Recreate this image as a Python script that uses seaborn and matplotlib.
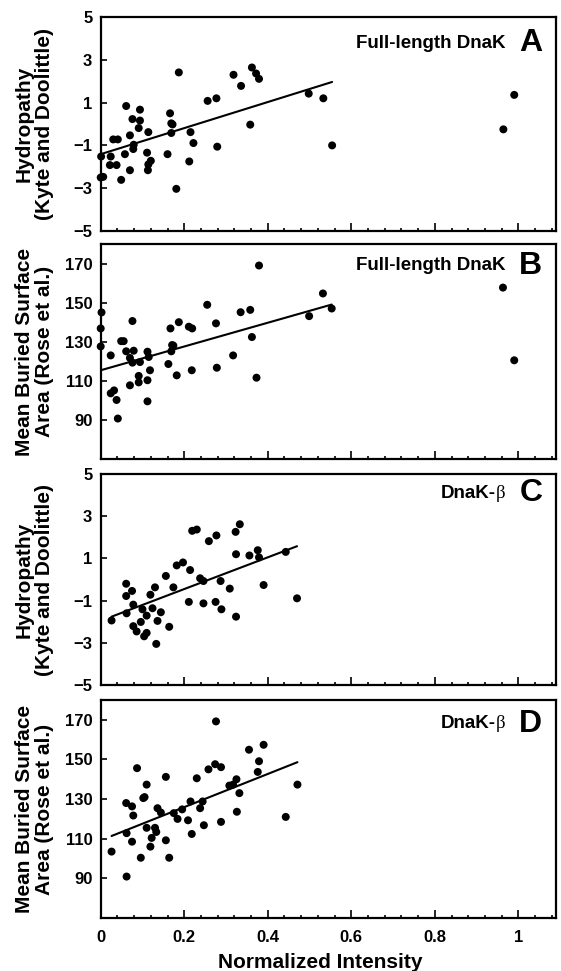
import numpy as np
import pandas as pd
import matplotlib
matplotlib.use("Agg")
import matplotlib.pyplot as plt
from matplotlib.ticker import MultipleLocator, FixedLocator, FuncFormatter
import seaborn as sns

# ---- Panel A: full-length DnaK, hydropathy ----
a_x = [0.001, 0.0, 0.006, 0.024, 0.022, 0.038, 0.030, 0.041, 0.049, 0.058, 0.061, 0.070,
       0.070, 0.076, 0.079, 0.078, 0.094, 0.094, 0.091, 0.114, 0.111, 0.114, 0.120, 0.113,
       0.160, 0.166, 0.169, 0.172, 0.169, 0.181, 0.187, 0.215, 0.222, 0.212, 0.256, 0.277,
       0.279, 0.318, 0.336, 0.362, 0.372, 0.379, 0.358, 0.498, 0.533, 0.554, 0.964, 0.990]
a_y = [-1.52, -2.50, -2.47, -1.52, -1.92, -1.92, -0.72, -0.72, -2.61, -1.41, 0.84, -0.53,
       -2.16, 0.23, -0.97, -1.17, 0.67, 0.16, -0.19, -0.38, -1.34, -1.89, -1.72, -2.16,
       -1.41, 0.50, 0.03, -0.02, -0.42, -3.03, 2.41, -0.38, -0.89, -1.75, 1.08, 1.20,
       -1.06, 2.30, 1.78, 2.64, 2.36, 2.11, -0.03, 1.42, 1.20, -1.00, -0.25, 1.36]
a_fit = (-1.41, 6.09)  # intercept, slope

# ---- Panel B: full-length DnaK, mean buried surface area ----
b_x = [0.002, 0.0, 0.0, 0.024, 0.024, 0.032, 0.038, 0.041, 0.049, 0.055, 0.061, 0.070,
       0.076, 0.079, 0.076, 0.070, 0.094, 0.091, 0.091, 0.112, 0.115, 0.118, 0.112, 0.112,
       0.162, 0.167, 0.171, 0.169, 0.174, 0.182, 0.187, 0.211, 0.219, 0.218, 0.255, 0.276,
       0.278, 0.317, 0.335, 0.358, 0.362, 0.373, 0.379, 0.499, 0.532, 0.553, 0.963, 0.990]
b_y = [145.0, 136.8, 127.6, 123.0, 103.6, 105.1, 100.2, 90.7, 130.3, 130.3, 125.1, 121.7,
       140.6, 125.4, 119.3, 107.7, 119.6, 112.5, 109.2, 124.9, 122.2, 115.4, 110.3, 99.5,
       118.6, 136.8, 128.3, 125.1, 128.0, 112.8, 140.0, 137.7, 136.8, 115.4, 148.9, 139.4,
       116.7, 123.0, 145.1, 146.3, 132.4, 111.6, 169.0, 143.1, 154.7, 147.0, 157.7, 120.5]
b_fit = (115.4, 60.8)

# ---- Panel C: DnaK-beta, hydropathy ----
c_x = [0.026, 0.061, 0.061, 0.062, 0.075, 0.078, 0.078, 0.086, 0.096, 0.100, 0.110, 0.104,
       0.110, 0.119, 0.124, 0.130, 0.133, 0.136, 0.144, 0.156, 0.164, 0.174, 0.182, 0.197,
       0.214, 0.211, 0.219, 0.230, 0.238, 0.246, 0.246, 0.259, 0.277, 0.275, 0.287, 0.289,
       0.309, 0.323, 0.333, 0.324, 0.324, 0.356, 0.376, 0.379, 0.390, 0.443, 0.470]
c_y = [-1.94, -0.20, -0.78, -1.60, -0.54, -1.19, -2.21, -2.46, -2.01, -1.41, -2.53, -2.69,
       -1.71, -0.72, -1.36, -0.37, -3.05, -1.96, -1.55, 0.17, -2.24, -0.37, 0.67, 0.81,
       0.45, -1.06, 2.31, 2.37, 0.06, -0.07, -1.13, 1.82, 2.09, -1.06, -0.07, -1.41,
       -0.43, 2.26, 2.62, 1.20, -1.76, 1.14, 1.39, 1.05, -0.26, 1.31, -0.89]
c_fit = (-1.955, 7.52)

# ---- Panel D: DnaK-beta, mean buried surface area ----
d_x = [0.026, 0.061, 0.062, 0.062, 0.075, 0.078, 0.075, 0.087, 0.096, 0.102, 0.105, 0.110,
       0.110, 0.119, 0.122, 0.130, 0.133, 0.136, 0.144, 0.156, 0.156, 0.164, 0.175, 0.184,
       0.195, 0.209, 0.215, 0.218, 0.230, 0.238, 0.244, 0.247, 0.258, 0.274, 0.276, 0.288,
       0.288, 0.308, 0.317, 0.325, 0.326, 0.332, 0.355, 0.376, 0.379, 0.390, 0.443, 0.471]
d_y = [103.5, 128.0, 112.8, 90.9, 126.3, 121.7, 108.5, 145.6, 100.4, 130.5, 131.0, 137.3,
       115.5, 106.0, 110.4, 115.5, 113.4, 125.4, 123.2, 141.2, 109.2, 100.4, 122.9, 120.0,
       124.8, 119.3, 128.8, 112.4, 140.5, 125.4, 128.8, 116.8, 145.0, 147.6, 169.2, 146.1,
       118.5, 136.8, 137.3, 140.0, 123.6, 133.0, 154.9, 143.7, 149.1, 157.4, 121.0, 137.3]
d_fit = (109.2, 83.7)

hydro_ticks = [-5, -3, -1, 1, 3, 5]
area_ticks = [90, 110, 130, 150, 170]
x_ticks = [0, 0.2, 0.4, 0.6, 0.8, 1.0]

hydro_label = "Hydropathy\n(Kyte and Doolittle)"
area_label = "Mean Buried Surface\nArea (Rose et al.)"

panels = [
    dict(x=a_x, y=a_y, fit=a_fit, ylim=(-5, 5), yticks=hydro_ticks, ylabel=hydro_label,
         name="Full-length DnaK", beta=False, letter="A", ty=0.878),
    dict(x=b_x, y=b_y, fit=b_fit, ylim=(70, 180), yticks=area_ticks, ylabel=area_label,
         name="Full-length DnaK", beta=False, letter="B", ty=0.9),
    dict(x=c_x, y=c_y, fit=c_fit, ylim=(-5, 5), yticks=hydro_ticks, ylabel=hydro_label,
         name="DnaK-", beta=True, letter="C", ty=0.91),
    dict(x=d_x, y=d_y, fit=d_fit, ylim=(70, 180), yticks=area_ticks, ylabel=area_label,
         name="DnaK-", beta=True, letter="D", ty=0.89),
]

sns.set_theme(style="ticks", rc={"axes.edgecolor": "black", "axes.linewidth": 1.6,
                                 "text.color": "black", "axes.labelcolor": "black",
                                 "xtick.color": "black", "ytick.color": "black"})
plt.rcParams["font.family"] = ["Liberation Sans", "DejaVu Sans"]
plt.rcParams["font.weight"] = "bold"

fig = plt.figure(figsize=(5.61, 9.71), dpi=100)
left, width = 0.1795, 0.8116
boxes = [(0.7621, 0.2204), (0.5273, 0.2214), (0.2945, 0.2173), (0.0546, 0.2245)]

for i, ((bottom, height), p) in enumerate(zip(boxes, panels)):
    ax = fig.add_axes([left, bottom, width, height])
    df = pd.DataFrame({"x": p["x"], "y": p["y"]})
    sns.scatterplot(data=df, x="x", y="y", ax=ax, color="black", s=33,
                    edgecolor="none", linewidth=0, clip_on=False, zorder=3, legend=False)

    # least-squares line over the main cluster (intensity below 0.6)
    core = df[df["x"] < 0.6]
    xs = np.array([core["x"].min(), core["x"].max()])
    line = pd.DataFrame({"x": xs, "y": p["fit"][0] + p["fit"][1] * xs})
    sns.lineplot(data=line, x="x", y="y", ax=ax, color="black", linewidth=1.5, zorder=2)

    ax.set_xlim(0, 1.09)
    ax.set_ylim(*p["ylim"])
    ax.xaxis.set_major_locator(FixedLocator(x_ticks))
    ax.xaxis.set_minor_locator(MultipleLocator(0.04))
    ax.yaxis.set_major_locator(FixedLocator(p["yticks"]))
    ax.tick_params(axis="both", which="both", direction="in", color="black", width=1.2,
                   labelsize=12, labelcolor="black")
    ax.tick_params(axis="x", which="major", length=5.5, pad=9)
    ax.tick_params(axis="x", which="minor", length=2.5)
    ax.tick_params(axis="y", which="major", length=4.5, pad=6)
    for sp in ax.spines.values():
        sp.set_visible(True)
        sp.set_color("black")
        sp.set_linewidth(1.6)

    ax.set_ylabel(p["ylabel"], fontsize=15, fontweight="bold", color="black",
                  family=["Liberation Sans Narrow", "Liberation Sans"], linespacing=1.05)
    ax.yaxis.set_label_coords(-0.103, 0.5)

    if i == len(panels) - 1:
        ax.xaxis.set_major_formatter(FuncFormatter(lambda v, pos: f"{v:g}"))
        ax.set_xlabel("Normalized Intensity", fontsize=15, fontweight="bold", color="black")
        ax.xaxis.set_label_coords(0.482, -0.16)
    else:
        ax.tick_params(axis="x", labelbottom=False)
        ax.set_xlabel("")

    ty = p["ty"]
    if p["beta"]:
        ax.text(0.868, ty, p["name"], transform=ax.transAxes, ha="right", va="center",
                fontsize=13.5, fontweight="bold", color="black")
        ax.text(0.868, ty, "\u03b2", transform=ax.transAxes, ha="left", va="center",
                fontsize=13.5, fontweight="normal", color="black",
                family=["Liberation Serif", "DejaVu Serif"])
    else:
        ax.text(0.89, ty, p["name"], transform=ax.transAxes, ha="right", va="center",
                fontsize=13.5, fontweight="bold", color="black")
    ax.text(0.97, ty, p["letter"], transform=ax.transAxes, ha="right", va="center",
            fontsize=23, fontweight="bold", color="black")

fig.savefig("out.png", dpi=100)
